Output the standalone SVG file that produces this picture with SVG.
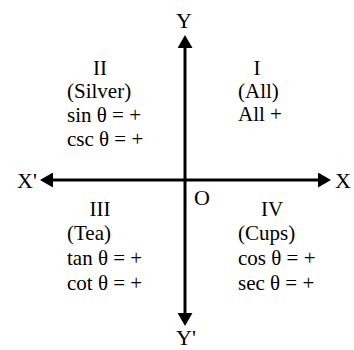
<svg xmlns="http://www.w3.org/2000/svg" width="354" height="350" viewBox="0 0 354 350">
<style>
text{font-family:"Liberation Serif","Times New Roman",serif;fill:#000}
.q{font-size:21px}
.ax{font-size:22px}
.c{text-anchor:middle}
.axis{stroke:#000;stroke-width:3;fill:none}
</style>
<defs>
<marker id="ah" markerUnits="userSpaceOnUse" markerWidth="14" markerHeight="15" refX="0" refY="7.5" orient="auto-start-reverse" viewBox="0 0 14 15">
<path d="M0,0 L13,7.5 L0,15 Z" fill="#000"/>
</marker>
</defs>
<rect width="354" height="350" fill="#fff"/>
<g id="connectors">
<line class="axis" x1="185" y1="313" x2="185" y2="48" marker-start="url(#ah)" marker-end="url(#ah)"/>
<line class="axis" x1="53" y1="180" x2="318" y2="180" marker-start="url(#ah)" marker-end="url(#ah)"/>
</g>
<g id="label-Y"><text class="ax c" x="184" y="28">Y</text></g>
<g id="label-Y-prime"><text class="ax c" x="186" y="345">Y'</text></g>
<g id="label-X-prime"><text class="ax" x="17" y="188">X'</text></g>
<g id="label-X"><text class="ax" x="335" y="188">X</text></g>
<g id="label-O"><text class="ax" x="194" y="205">O</text></g>
<g id="quadrant-II">
<text class="q c" x="100" y="75">II</text>
<text class="q" x="67" y="98">(Silver)</text>
<text class="q" x="67" y="122">sin θ = +</text>
<text class="q" x="67" y="146">csc θ = +</text>
</g>
<g id="quadrant-I">
<text class="q c" x="257" y="75">I</text>
<text class="q" x="238" y="98">(All)</text>
<text class="q" x="238" y="121">All +</text>
</g>
<g id="quadrant-III">
<text class="q c" x="100" y="216">III</text>
<text class="q" x="67" y="240">(Tea)</text>
<text class="q" x="67" y="265">tan θ = +</text>
<text class="q" x="67" y="290">cot θ = +</text>
</g>
<g id="quadrant-IV">
<text class="q c" x="272" y="216">IV</text>
<text class="q" x="238" y="240">(Cups)</text>
<text class="q" x="238" y="265">cos θ = +</text>
<text class="q" x="238" y="290">sec θ = +</text>
</g>
</svg>
